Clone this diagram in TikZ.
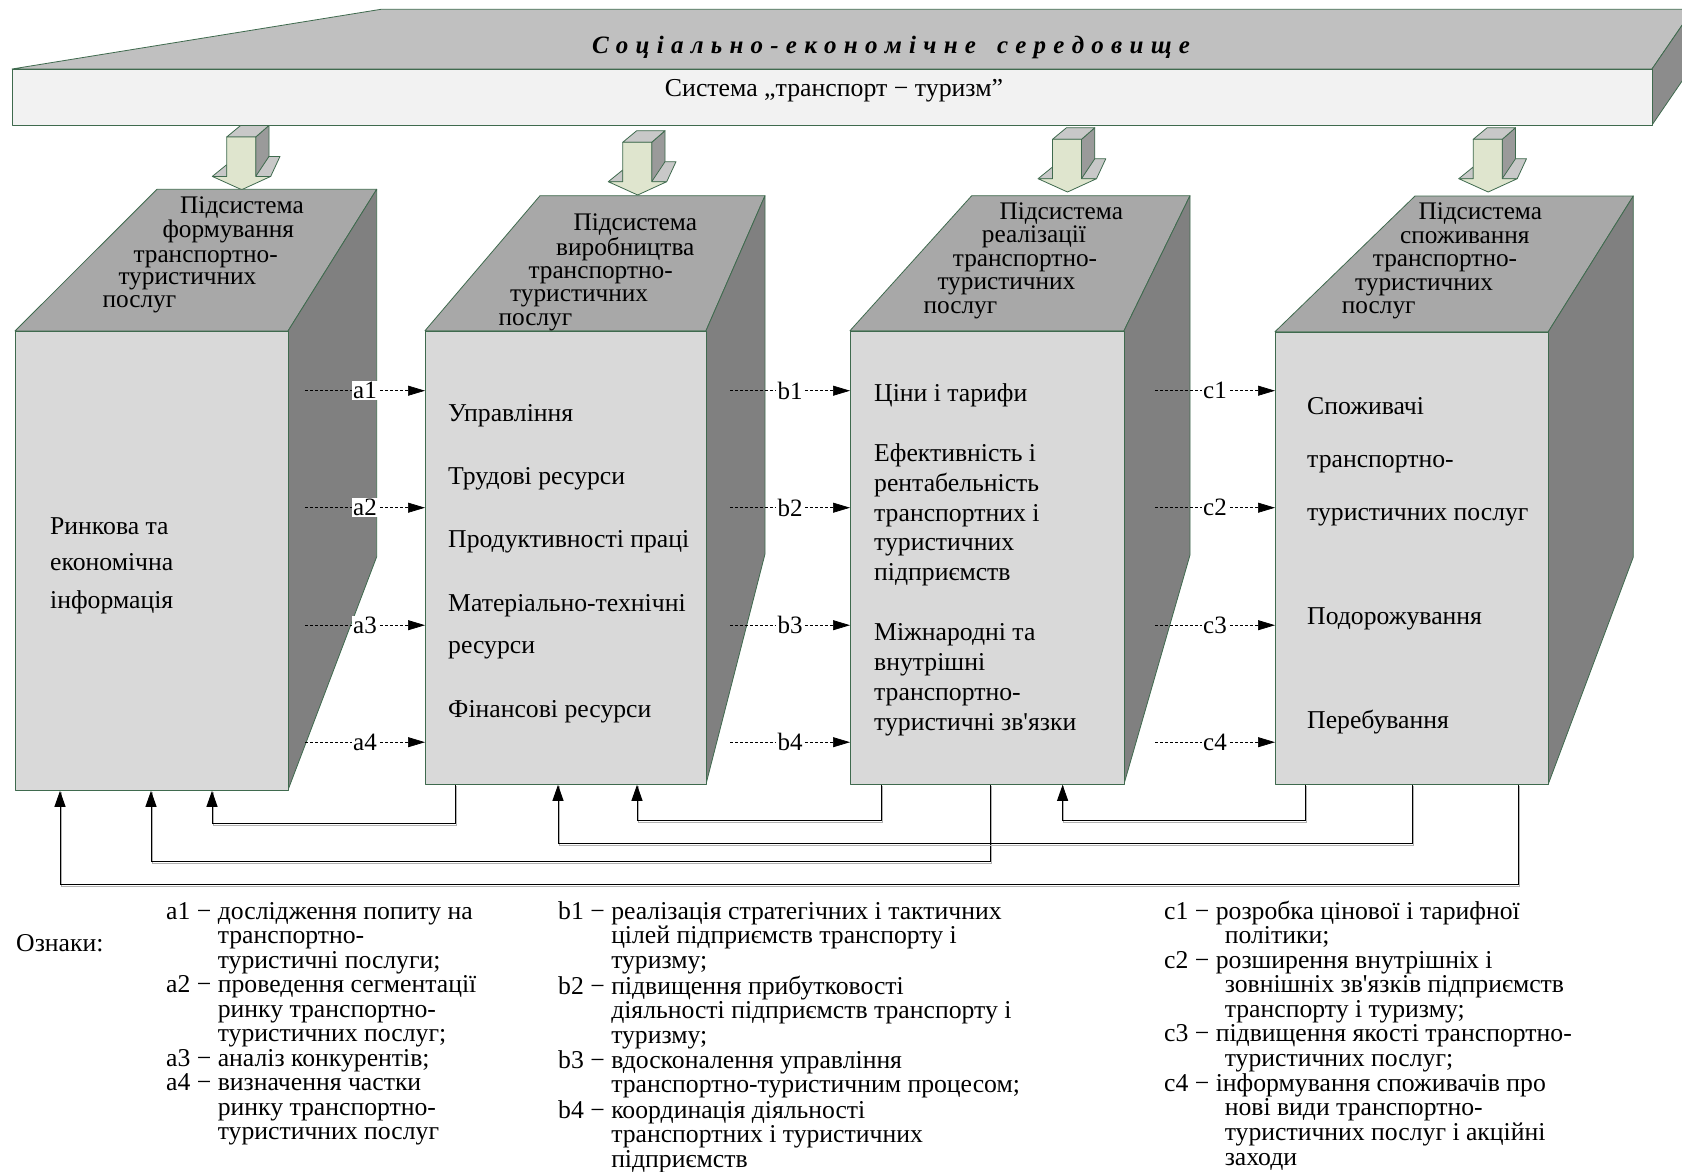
\documentclass[tikz,border=0pt]{standalone}
\usepackage{fontspec}
\setmainfont{Liberation Serif}[Ligatures=TeXOff]
\usetikzlibrary{calc,arrows.meta}

\definecolor{edge}{HTML}{3F6A4E}
\definecolor{bannertop}{HTML}{C0C0C0}
\definecolor{bannerfront}{HTML}{F2F2F2}
\definecolor{bannerside}{HTML}{8C8C8C}
\definecolor{cubefront}{HTML}{D9D9D9}
\definecolor{cubetop}{HTML}{A8A8A8}
\definecolor{cubeside}{HTML}{808080}
\definecolor{arrowfront}{HTML}{DFE5CE}
\definecolor{arrowtop}{HTML}{C8C8C8}
\definecolor{arrowside}{HTML}{9A9A9A}

\newcommand\sz[2]{\fontsize{#1}{#2}\selectfont}
% letter-spaced word
\newcommand\spreadword[1]{\spreadloop#1\relax}
\def\spreadloop#1{\ifx\relax#1\else#1\hskip0.29em\relax\expandafter\spreadloop\fi}

\tikzset{
  face/.style={draw=edge, line width=0.8pt, line join=round},
  frontbox/.style={face, fill=cubefront, rectangle, inner sep=0pt, anchor=north west},
  headtxt/.style={font=\sz{25.3}{28}, anchor=base west, inner sep=0pt},
  bodytxt/.style={font=\sz{25.7}{28}, anchor=base west, inner sep=0pt},
  lbl/.style={fill=white, inner sep=1.2pt, font=\sz{25}{26}},
  dasharrow/.style={line width=0.7pt, dash pattern=on 3pt off 2pt, -{Triangle[length=17pt,width=10pt]}},
  fb/.style={line width=1pt, -{Triangle[length=16pt,width=11pt]},
    preaction={draw=black!30, line width=1pt, -, transform canvas={shift={(1pt,-1.6pt)}}}},
  legend/.style={font=\sz{25.7}{24.5}, anchor=base west, inner sep=0pt},
}

% three-dimensional block arrow pointing down; #1,#2 = top centre of the front shaft
\newcommand\blockarrow[2]{%
  \begin{scope}[shift={(#1,#2)}]
    \path[face, fill=arrowside] (14.2,0) -- (27.5,-11.6) -- (27.5,25) -- (14.2,39.4) -- cycle;
    \path[face, fill=arrowtop] (14.2,39.4) -- (29.2,39.4) -- (38.5,19.4) -- (27.5,19.4) -- cycle;
    \path[face, fill=arrowtop] (-14.8,0) -- (-0.8,-11.6) -- (27.5,-11.6) -- (14.2,0) -- cycle;
    \path[face, fill=arrowtop] (-29.2,39.4) -- (-14.8,27.7) -- (-14.8,39.4) -- cycle;
    \path[face, fill=arrowfront] (-14.8,0) -- (14.2,0) -- (14.2,39.4) -- (29.2,39.4)
      -- (0.2,52.7) -- (-29.2,39.4) -- (-14.8,39.4) -- cycle;
  \end{scope}}

\begin{document}
\begin{tikzpicture}[x=1pt,y=-1pt]
\useasboundingbox (0,0) rectangle (1682,1171);
\clip (0,0) rectangle (1682,1171);
\fill[white] (0,0) rectangle (1682,1171);

% ---- environment slab ----
\path[face, fill=bannertop] (381,9.3) -- (1693,9.3) -- (1652,69) -- (12,69) -- cycle;
\path[face, fill=bannerside] (1652,69) -- (1693,9.3) -- (1693,65) -- (1652,125) -- cycle;
\node[face, fill=bannerfront, rectangle, inner sep=0pt, anchor=north west,
      minimum width=1640pt, minimum height=56pt] (sys) at (12,69) {};
\node[anchor=base, inner sep=0pt, font=\sz{25}{26}\bfseries\itshape] (env) at (891,53)
  {\spreadword{Соціально-економічне}\hskip0.55em\spreadword{середовище}};
\node[anchor=base, inner sep=0pt, font=\sz{25.8}{28}] (systxt) at (834,96)
  {Система „транспорт − туризм”};

% ---- block arrows ----
\blockarrow{241.5}{137}
\blockarrow{637.5}{142.3}
\blockarrow{1067.3}{139.3}
\blockarrow{1488}{139.3}

% ---- subsystem cubes ----
% cube 1
\path[face, fill=cubetop] (15,331) -- (157,189.3) -- (376.7,189.3) -- (288,331) -- cycle;
\path[face, fill=cubeside] (288,331) -- (376.7,189.3) -- (376.7,556.7) -- (288,790) -- cycle;
\node[frontbox, minimum width=273pt, minimum height=459pt] (b1) at (15,331) {};
% cube 2
\path[face, fill=cubetop] (425,330.7) -- (540,195.7) -- (765,195.7) -- (706,330.7) -- cycle;
\path[face, fill=cubeside] (706,330.7) -- (765,195.7) -- (765,554) -- (706,784) -- cycle;
\node[frontbox, minimum width=281pt, minimum height=453.3pt] (b2) at (425,330.7) {};
% cube 3
\path[face, fill=cubetop] (850,330.7) -- (971.7,195.7) -- (1190,195.7) -- (1124,330.7) -- cycle;
\path[face, fill=cubeside] (1124,330.7) -- (1190,195.7) -- (1190,555) -- (1124,784) -- cycle;
\node[frontbox, minimum width=274pt, minimum height=453.3pt] (b3) at (850,330.7) {};
% cube 4
\path[face, fill=cubetop] (1275,331.7) -- (1415,196) -- (1633.3,196) -- (1548.3,331.7) -- cycle;
\path[face, fill=cubeside] (1548.3,331.7) -- (1633.3,196) -- (1633.3,557) -- (1548.3,784) -- cycle;
\node[frontbox, minimum width=273.3pt, minimum height=452.3pt] (b4) at (1275,331.7) {};

% ---- cube headings ----
\foreach \t/\x/\y [count=\i] in {Підсистема/180/213, формування/162.3/237.3,
    транспортно-/133.3/262.3, туристичних/118.3/284, послуг/102.3/307}
  \node[headtxt] (h1\i) at (\x,\y) {\t};
\foreach \t/\x/\y [count=\i] in {Підсистема/573.3/230.7, виробництва/556/255.7,
    транспортно-/528.3/278, туристичних/510/301.7, послуг/498.3/325}
  \node[headtxt] (h2\i) at (\x,\y) {\t};
\foreach \t/\x/\y [count=\i] in {Підсистема/999.3/219, реалізації/981.7/242.7,
    транспортно-/952.7/266.7, туристичних/937.3/289, послуг/923.3/313.3}
  \node[headtxt] (h3\i) at (\x,\y) {\t};
\foreach \t/\x/\y [count=\i] in {Підсистема/1418.3/219, споживання/1400/243.3,
    транспортно-/1372.7/266.7, туристичних/1355/290, послуг/1341.7/313.3}
  \node[headtxt] (h4\i) at (\x,\y) {\t};

% ---- cube contents ----
\foreach \t/\y [count=\i] in {Ринкова та/534, економічна/570, інформація/608}
  \node[bodytxt] (c1\i) at (50,\y) {\t};
\foreach \t/\y [count=\i] in {Управління/421, Трудові ресурси/484,
    Продуктивності праці/547, Матеріально-технічні/611, ресурси/653, Фінансові ресурси/717}
  \node[bodytxt] (c2\i) at (448,\y) {\t};
\foreach \t/\y [count=\i] in {Ціни і тарифи/401, Ефективність і/461, рентабельність/491,
    транспортних і/521, туристичних/550, підприємств/580, Міжнародні та/640,
    внутрішні/670, транспортно-/700, туристичні зв'язки/730}
  \node[bodytxt] (c3\i) at (874,\y) {\t};
\foreach \t/\y [count=\i] in {Споживачі/414, транспортно-/467, туристичних послуг/520,
    Подорожування/624, Перебування/728}
  \node[bodytxt] (c4\i) at (1307,\y) {\t};

% ---- dashed links between neighbouring cubes ----
\foreach \k/\dy in {1/60, 2/177, 3/294.5, 4/411.5} {
  \coordinate (as\k) at ($(b2.north west)+(-120,\dy)$);
  \draw[dasharrow] (as\k) -- (as\k -| b2.west) node[lbl, midway] (la\k) {a\k};
  \coordinate (bs\k) at ($(b3.north west)+(-120,\dy)$);
  \draw[dasharrow] (bs\k) -- (bs\k -| b3.west) node[lbl, midway] (lb\k) {b\k};
  \coordinate (cs\k) at ($(b4.north west)+(-120,\dy-1)$);
  \draw[dasharrow] (cs\k) -- (cs\k -| b4.west) node[lbl, midway] (lc\k) {c\k};
}

% ---- feedback lines ----
\coordinate (e11) at ($(b1.south west)+(45,0)$);
\coordinate (e12) at ($(b1.south west)+(136,0)$);
\coordinate (e13) at ($(b1.south west)+(197,0)$);
\coordinate (e21) at ($(b2.south west)+(133,0)$);
\coordinate (e22) at ($(b2.south west)+(212,0)$);
\coordinate (e31) at ($(b3.south west)+(212.6,0)$);
\coordinate (s21) at ($(b2.south west)+(30,0)$);
\coordinate (s31) at ($(b3.south west)+(31,0)$);
\coordinate (s32) at ($(b3.south west)+(140,0)$);
\coordinate (s41) at ($(b4.south west)+(30.5,0)$);
\coordinate (s42) at ($(b4.south west)+(137,0)$);
\coordinate (s43) at ($(b4.south west)+(243.5,0)$);
\draw[fb] (s21) -- ++(0,39) -| (e13);
\draw[fb] (s31) -- ++(0,36) -| (e22);
\draw[fb] (s32) -- ++(0,77) -| (e12);
\draw[fb] (s41) -- ++(0,36) -| (e31);
\draw[fb] (s42) -- ++(0,59) -| (e21);
\draw[fb] (s43) -- ++(0,100) -| (e11);

% ---- legend ----
\node[legend] (legtitle) at (16,951) {Ознаки:};
\node[legend] (lega) at (166,919) {\begin{tabular}[t]{@{}l@{\ }l@{}}
a1 − & дослідження попиту на\\
     & транспортно-\\
     & туристичні послуги;\\
a2 − & проведення сегментації\\
     & ринку транспортно-\\
     & туристичних послуг;\\
a3 − & аналіз конкурентів;\\
a4 − & визначення частки\\
     & ринку транспортно-\\
     & туристичних послуг
\end{tabular}};
\node[legend] (legb) at (558,919) {\begin{tabular}[t]{@{}l@{\ }l@{}}
b1 − & реалізація стратегічних і тактичних\\
     & цілей підприємств транспорту і\\
     & туризму;\\
b2 − & підвищення прибутковості\\
     & діяльності підприємств транспорту і\\
     & туризму;\\
b3 − & вдосконалення управління\\
     & транспортно-туристичним процесом;\\
b4 − & координація діяльності\\
     & транспортних і туристичних\\
     & підприємств
\end{tabular}};
\node[legend] (legc) at (1164,919) {\begin{tabular}[t]{@{}l@{\ }l@{}}
c1 − & розробка цінової і тарифної\\
     & \hspace*{9pt}політики;\\
c2 − & розширення внутрішніх і\\
     & \hspace*{9pt}зовнішніх зв'язків підприємств\\
     & \hspace*{9pt}транспорту і туризму;\\
c3 − & підвищення якості транспортно-\\
     & \hspace*{9pt}туристичних послуг;\\
c4 − & інформування споживачів про\\
     & \hspace*{9pt}нові види транспортно-\\
     & \hspace*{9pt}туристичних послуг і акційні\\
     & \hspace*{9pt}заходи
\end{tabular}};
\end{tikzpicture}
\end{document}
